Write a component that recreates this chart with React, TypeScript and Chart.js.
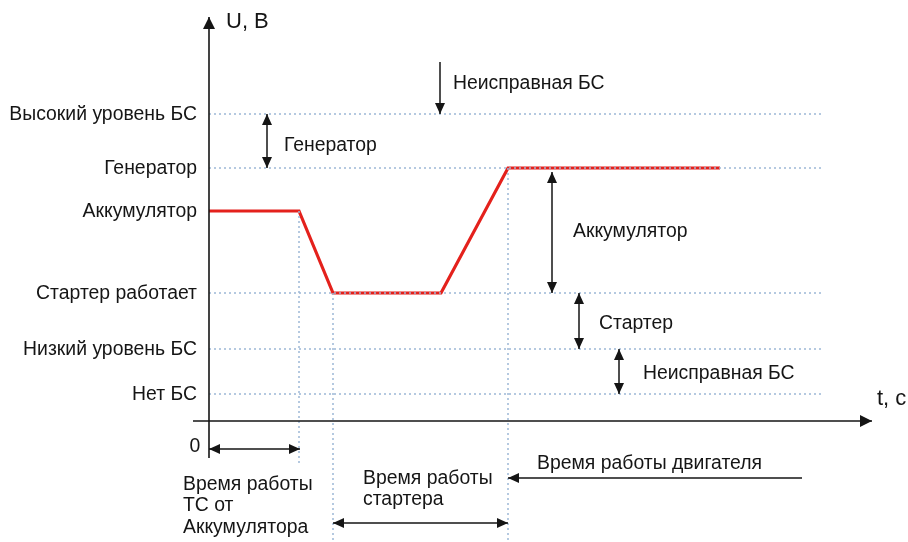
import React, { useEffect, useRef } from 'react';
import { Chart, registerables } from 'chart.js';

Chart.register(...registerables);

// Voltage levels (arbitrary units) and their names on the U axis
const levelNames = ['Нет БС', 'Низкий уровень БС', 'Стартер работает', 'Аккумулятор', 'Генератор', 'Высокий уровень БС'];
const levelValues = [27, 72, 128, 210, 253, 307];
// Levels that get a dotted guide line
const guideLevels = [27, 72, 128, 253, 307];

// On-board voltage over time
const timePoints = [0, 90, 124, 232, 299, 511];
const voltagePoints = [210, 210, 128, 128, 253, 253];

// Moments marked with vertical guides: battery-only end, starter reached, engine running
const markerTimes = [90, 124, 299];

const T_MAX = 663;
const GUIDE_END = 613;
const U_MIN = -121;
const U_MAX = 404;

const FONT = "'Liberation Sans', Arial, sans-serif";
const FONT_SIZE = 19.4;
const AXIS_FONT_SIZE = 22;
const GUIDE_COLOR = '#9db8d6';
const INK = '#151515';

const lvl = (name: string) => levelValues[levelNames.indexOf(name)];

function arrowHead(ctx: CanvasRenderingContext2D, x1: number, y1: number, x2: number, y2: number, len = 11, half = 5) {
  const a = Math.atan2(y2 - y1, x2 - x1);
  ctx.beginPath();
  ctx.moveTo(x2, y2);
  ctx.lineTo(x2 - len * Math.cos(a) + half * Math.sin(a), y2 - len * Math.sin(a) - half * Math.cos(a));
  ctx.lineTo(x2 - len * Math.cos(a) - half * Math.sin(a), y2 - len * Math.sin(a) + half * Math.cos(a));
  ctx.closePath();
  ctx.fill();
}

function arrow(ctx: CanvasRenderingContext2D, x1: number, y1: number, x2: number, y2: number, both = false, len = 11, half = 5) {
  ctx.beginPath();
  ctx.moveTo(x1, y1);
  ctx.lineTo(x2, y2);
  ctx.stroke();
  arrowHead(ctx, x1, y1, x2, y2, len, half);
  if (both) arrowHead(ctx, x2, y2, x1, y1, len, half);
}

const annotations = {
  id: 'annotations',
  afterDatasetsDraw(chart: any) {
    const { ctx, scales } = chart;
    const px = (t: number) => scales.x.getPixelForValue(t);
    const py = (u: number) => scales.y.getPixelForValue(u);
    ctx.save();
    ctx.strokeStyle = INK;
    ctx.fillStyle = INK;
    ctx.lineWidth = 1.6;

    // axes with arrows
    arrow(ctx, px(0), py(-37), px(0), py(U_MAX), false, 12, 6);
    arrow(ctx, px(-16), py(0), px(T_MAX), py(0), false, 12, 6);

    ctx.lineWidth = 1.5;
    // level-difference arrows
    arrow(ctx, px(231), py(359), px(231), py(lvl('Высокий уровень БС')));
    arrow(ctx, px(58), py(lvl('Высокий уровень БС')), px(58), py(lvl('Генератор')), true);
    arrow(ctx, px(343), py(lvl('Генератор') - 4), px(343), py(lvl('Стартер работает')), true);
    arrow(ctx, px(370), py(lvl('Стартер работает')), px(370), py(lvl('Низкий уровень БС')), true);
    arrow(ctx, px(410), py(lvl('Низкий уровень БС')), px(410), py(lvl('Нет БС')), true);

    // time-span arrows
    arrow(ctx, px(0), py(-28), px(markerTimes[0] + 1), py(-28), true);
    arrow(ctx, px(markerTimes[1]), py(-102), px(markerTimes[2]), py(-102), true);
    arrow(ctx, px(593), py(-57), px(markerTimes[2]), py(-57));

    // texts
    ctx.textBaseline = 'middle';
    ctx.textAlign = 'left';
    const text = (s: string, t: number, u: number) => ctx.fillText(s, px(t), py(u) + 1);
    ctx.font = `${AXIS_FONT_SIZE}px ${FONT}`;
    text('U, В', 17, 400);
    text('t, с', 668, 23);
    ctx.font = `${FONT_SIZE}px ${FONT}`;
    text('Неисправная БС', 244, 338);
    text('Генератор', 75, 276);
    text('Аккумулятор', 364, 190);
    text('Стартер', 390, 98);
    text('Неисправная БС', 434, 48);
    text('Время работы', -26, -63);
    text('ТС от', -26, -84);
    text('Аккумулятора', -26, -106);
    text('Время работы', 154, -57);
    text('стартера', 154, -78);
    text('Время работы двигателя', 328, -42);
    ctx.textAlign = 'center';
    text('0', -14, -25);
    ctx.restore();
  },
};

const guideDataset = (points: { x: number; y: number }[]) => ({
  data: points,
  borderColor: GUIDE_COLOR,
  borderWidth: 1.5,
  borderDash: [2, 3],
  pointRadius: 0,
  fill: false,
});

export default function App() {
  const canvasRef = useRef<HTMLCanvasElement | null>(null);

  useEffect(() => {
    const canvas = canvasRef.current;
    if (!canvas) return;

    const horizontalGuides = guideLevels.map((u) =>
      guideDataset([{ x: 0, y: u }, { x: GUIDE_END, y: u }])
    );
    const verticalGuides = markerTimes.map((t, i) =>
      guideDataset([
        { x: t, y: voltagePoints[timePoints.indexOf(t)] },
        { x: t, y: i === 0 ? -44 : U_MIN },
      ])
    );

    const chart = new Chart(canvas, {
      type: 'line',
      data: {
        datasets: [
          ...horizontalGuides,
          ...verticalGuides,
          {
            data: timePoints.map((t, i) => ({ x: t, y: voltagePoints[i] })),
            borderColor: '#e4211c',
            borderWidth: 3.2,
            pointRadius: 0,
            fill: false,
            tension: 0,
          },
        ],
      },
      options: {
        responsive: false,
        animation: false,
        devicePixelRatio: 1,
        layout: { padding: { left: 0, right: 36, top: 17, bottom: 0 } },
        plugins: { legend: { display: false }, tooltip: { enabled: false } },
        scales: {
          x: { type: 'linear', display: false, min: 0, max: T_MAX },
          y: {
            type: 'linear',
            min: U_MIN,
            max: U_MAX,
            grid: { display: false, drawTicks: false },
            border: { display: false },
            afterBuildTicks: (scale: any) => {
              scale.ticks = levelValues.map((v) => ({ value: v }));
            },
            afterFit: (scale: any) => {
              scale.width = 209;
              scale.paddingTop = 0;
              scale.paddingBottom = 0;
            },
            ticks: {
              autoSkip: false,
              padding: 12,
              labelOffset: 1,
              color: INK,
              font: { family: FONT, size: FONT_SIZE },
              callback: (v: any) => levelNames[levelValues.indexOf(Number(v))] ?? '',
            },
          },
        },
      },
      plugins: [annotations],
    });
    return () => chart.destroy();
  }, []);

  return (
    <div style={{ position: 'fixed', left: 0, top: 0, width: 908, height: 542, background: '#fff' }}>
      <canvas ref={canvasRef} width={908} height={542} />
    </div>
  );
}
